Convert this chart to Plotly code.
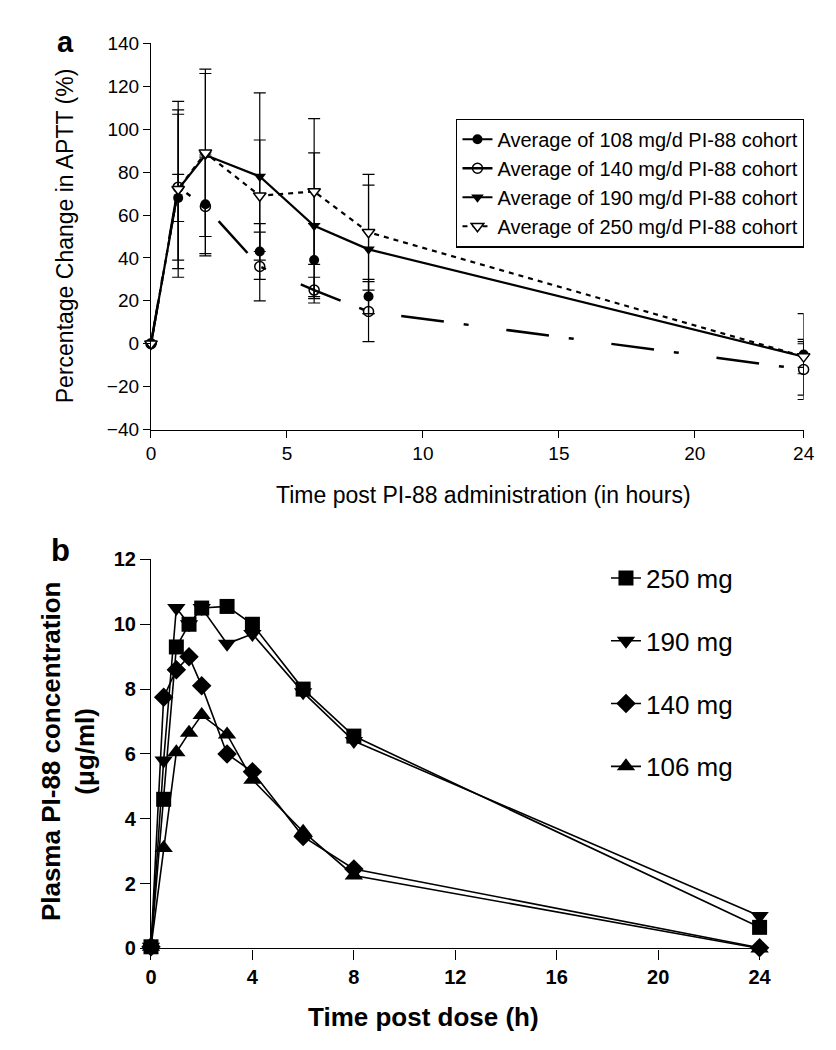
import plotly.graph_objects as go

# ---------------- Panel a data ----------------
hours_a = [0, 1, 2, 4, 6, 8, 24]
aptt_108 = [0, 68, 65, 43, 39, 22, -5]
err_108 = [0, 11, 23, 13, 17, 8, 6]
aptt_140 = [0, 73, 64, 36, 25, 15, -12]
err_140 = [0, 34, 23, 16, 6, 14, 12]
aptt_190 = [0, 72, 88, 78, 55, 44, -6]
err_190 = [0, 37, 38, 39, 34, 30, 8]
aptt_250 = [0, 72, 89, 69, 71, 52, -6]
err_250 = [0, 41, 39, 26, 34, 27, 20]
names_a = ["Average of 108 mg/d PI-88 cohort", "Average of 140 mg/d PI-88 cohort",
           "Average of 190 mg/d PI-88 cohort", "Average of 250 mg/d PI-88 cohort"]
xticks_a = [0, 5, 10, 15, 20, 24]
yticks_a = [-40, -20, 0, 20, 40, 60, 80, 100, 120, 140]

# ---------------- Panel b data ----------------
hours_b = [0, 0.5, 1, 1.5, 2, 3, 4, 6, 8, 24]
conc_250 = [0.05, 4.6, 9.3, 10.0, 10.5, 10.55, 10.0, 8.0, 6.55, 0.65]
conc_190 = [0.05, 5.8, 10.5, 10.0, 10.5, 9.4, 9.7, 7.9, 6.4, 1.0]
conc_140 = [0.05, 7.75, 8.6, 9.0, 8.1, 6.0, 5.45, 3.45, 2.45, 0.02]
conc_106 = [0.05, 3.1, 6.05, 6.65, 7.2, 6.6, 5.2, 3.6, 2.25, 0.0]
names_b = ["250 mg", "190 mg", "140 mg", "106 mg"]
xticks_b = [0, 4, 8, 12, 16, 20, 24]
yticks_b = [0, 2, 4, 6, 8, 10, 12]

W, H = 836, 1050
REG = "Liberation Sans, Arial, Helvetica, sans-serif"

def px(x):
    return x / W

def py(y):
    return 1 - y / H

fig = go.Figure()

eb = dict(type="data", color="black", thickness=1.2, width=6)

# legend-only entry for the 108 cohort (drawn as markers only in the plot)
fig.add_trace(go.Scatter(x=[None], y=[None], mode="lines+markers", name=names_a[0],
                         line=dict(color="black", width=2),
                         marker=dict(symbol="circle", size=10, color="black"),
                         legend="legend", xaxis="x", yaxis="y"))
fig.add_trace(go.Scatter(x=hours_a, y=aptt_108, mode="markers", name=names_a[0], showlegend=False,
                         marker=dict(symbol="circle", size=10, color="black"),
                         error_y=dict(array=err_108, **eb), xaxis="x", yaxis="y", cliponaxis=False))
fig.add_trace(go.Scatter(x=hours_a, y=aptt_140, mode="lines+markers", name=names_a[1],
                         line=dict(color="black", width=2.5, dash="43px,20px,5px,38px"),
                         marker=dict(symbol="circle-open", size=10, color="black", line=dict(width=1.5)),
                         error_y=dict(array=err_140, **eb), legend="legend",
                         xaxis="x", yaxis="y", cliponaxis=False))
fig.add_trace(go.Scatter(x=hours_a, y=aptt_190, mode="lines+markers", name=names_a[2],
                         line=dict(color="black", width=2.2),
                         marker=dict(symbol="triangle-down", size=11, color="black"),
                         error_y=dict(array=err_190, **eb), legend="legend",
                         xaxis="x", yaxis="y", cliponaxis=False))
fig.add_trace(go.Scatter(x=hours_a, y=aptt_250, mode="lines+markers", name=names_a[3],
                         line=dict(color="black", width=2.2, dash="5px,5px"),
                         marker=dict(symbol="triangle-down", size=11, color="white",
                                     line=dict(color="black", width=1.5)),
                         error_y=dict(array=err_250, **eb), legend="legend",
                         xaxis="x", yaxis="y", cliponaxis=False))

# panel b
syms_b = ["square", "triangle-down", "diamond", "triangle-up"]
sizes_b = [15, 16, 15, 16]
for i, (nm, ys) in enumerate(zip(names_b, [conc_250, conc_190, conc_140, conc_106])):
    fig.add_trace(go.Scatter(x=hours_b, y=ys, mode="lines+markers", name=nm,
                             line=dict(color="black", width=1.6),
                             marker=dict(symbol=syms_b[i], size=sizes_b[i], color="black"),
                             legend="legend2", legendgroup="g%d" % i,
                             xaxis="x2", yaxis="y2", cliponaxis=False))

axis_common = dict(showline=True, linecolor="black", linewidth=1.2, ticks="outside",
                   tickcolor="black", showgrid=False, zeroline=False, mirror=False)

fig.update_layout(
    width=W, height=H, margin=dict(l=0, r=0, t=0, b=0),
    paper_bgcolor="white", plot_bgcolor="white",
    xaxis=dict(domain=[px(140), px(807)], range=[0, 24], tickvals=xticks_a, ticklen=7,
               tickfont=dict(family=REG, size=19, color="black"), anchor="y", **axis_common),
    yaxis=dict(domain=[py(419.3), py(25)], range=[-40, 140], tickvals=yticks_a, ticklen=7,
               tickfont=dict(family=REG, size=19, color="black"), anchor="x", **axis_common),
    xaxis2=dict(domain=[px(140), px(762)], range=[0, 24], tickvals=xticks_b, ticklen=10,
                tickfont=dict(family=REG, size=20, color="black", weight="bold"), anchor="y2",
                **axis_common),
    yaxis2=dict(domain=[py(949.3), py(552)], range=[0, 12], tickvals=yticks_b, ticklen=10,
                tickfont=dict(family=REG, size=20, color="black", weight="bold"), anchor="x2",
                **axis_common),
    legend=dict(x=px(452), y=py(101.7), xanchor="left", yanchor="top",
                bgcolor="white", bordercolor="black", borderwidth=1.2,
                font=dict(family=REG, size=20, color="black"), traceorder="normal"),
    legend2=dict(x=px(605), y=py(547), xanchor="left", yanchor="top",
                 bgcolor="rgba(0,0,0,0)", borderwidth=0, tracegroupgap=26,
                 font=dict(family=REG, size=26, color="black"), traceorder="grouped"),
    showlegend=True,
)

ann = [
    dict(text="<b>a</b>", x=px(53), y=py(24), font=dict(family=REG, size=29, color="black")),
    dict(text="Percentage Change in APTT (%)", x=px(53), y=py(221), textangle=-90,
         font=dict(family=REG, size=23, color="black")),
    dict(text="Time post PI-88 administration (in hours)", x=px(480), y=py(486),
         font=dict(family=REG, size=23, color="black")),
    dict(text="<b>b</b>", x=px(48), y=py(543), font=dict(family=REG, size=31, color="black")),
    dict(text="<b>Plasma PI-88 concentration<br>(μg/ml)</b>", x=px(56), y=py(748), textangle=-90,
         font=dict(family=REG, size=26, color="black")),
    dict(text="<b>Time post dose (h)</b>", x=px(418), y=py(1019),
         font=dict(family=REG, size=26, color="black")),
]
for a in ann:
    a.update(xref="paper", yref="paper", showarrow=False, xanchor="center", yanchor="middle")
fig.update_layout(annotations=ann)

fig.write_html("out.html")
